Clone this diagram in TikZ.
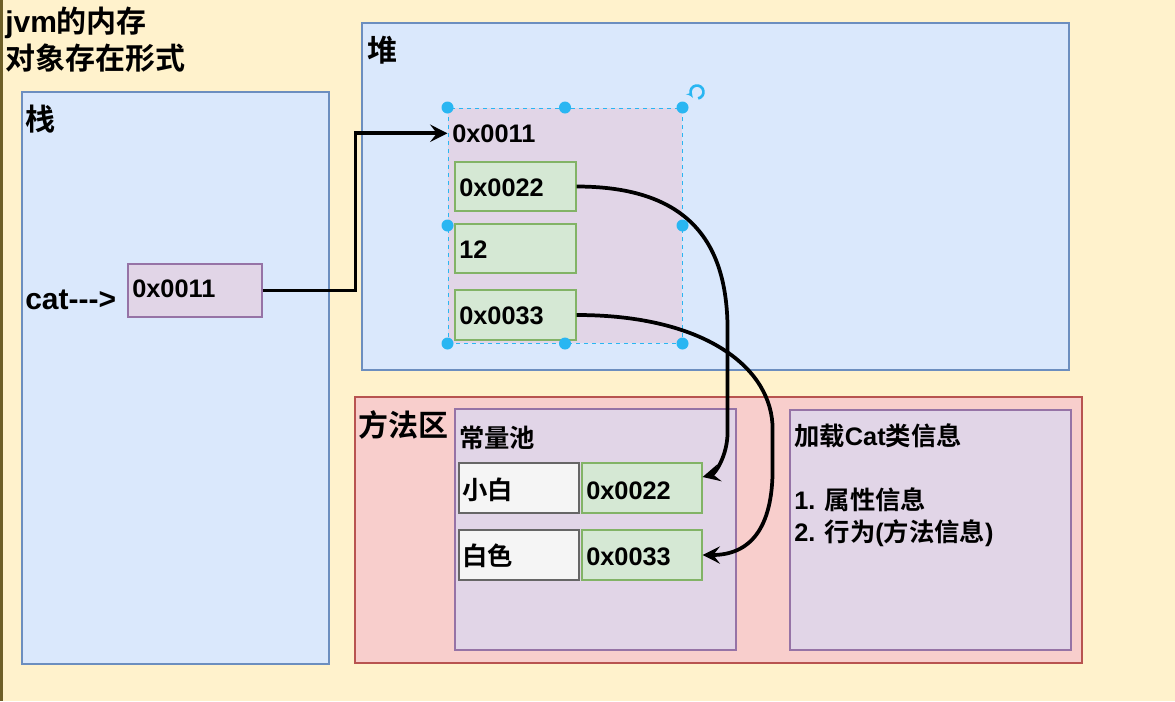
\documentclass[tikz,border=0pt]{standalone}
\usepackage{fontspec}
\setmainfont{Liberation Sans}
\newfontfamily\cjk{Noto Sans CJK SC}[BoldFont={Noto Sans CJK SC Bold}]
\usetikzlibrary{arrows.meta,fit,calc}
\definecolor{bgY}{HTML}{FFF2CC}
\definecolor{edgeL}{RGB}{110,95,40}
\definecolor{blueF}{HTML}{DAE8FC}
\definecolor{blueD}{HTML}{6C8EBF}
\definecolor{purF}{HTML}{E1D5E7}
\definecolor{purD}{HTML}{9673A6}
\definecolor{grnF}{HTML}{D5E8D4}
\definecolor{grnD}{HTML}{82B366}
\definecolor{redF}{HTML}{F8CECC}
\definecolor{redD}{HTML}{B85450}
\definecolor{gryF}{HTML}{F5F5F5}
\definecolor{gryD}{HTML}{666666}
\definecolor{selB}{RGB}{41,182,242}
\newcommand{\zhtxt}[1]{{\cjk #1}}
\begin{document}
\begin{tikzpicture}[x=0.75pt,y=-0.75pt,
  box/.style={rectangle, inner sep=0pt, line width=0.9pt},
  bluebox/.style={box, fill=blueF, draw=blueD},
  purbox/.style={box, fill=purF, draw=purD},
  grnbox/.style={box, fill=grnF, draw=grnD},
  redbox/.style={box, fill=redF, draw=redD},
  grybox/.style={box, fill=gryF, draw=gryD},
  objbox/.style={box, fill=purF, draw=selB, dashed, line width=0.75pt},
  txt/.style={inner sep=0pt, anchor=base west, font=\bfseries\fontsize{19}{23}\selectfont},
  bigtxt/.style={inner sep=0pt, anchor=base west, font=\bfseries\fontsize{22.5}{27}\selectfont},
  conn/.style={line width=2.8pt, -{Stealth[length=13pt,width=13pt,inset=5pt]}},
  handle/.style={circle, fill=selB, inner sep=0pt, minimum size=9pt}
]
\useasboundingbox (0,0) rectangle (1175,701);
\fill[bgY] (0,0) rectangle (1175,701);
\draw[edgeL, line width=2.2pt] (1.5,0) -- (1.5,701);

% regions
\node[bluebox, fit={(22,92)(329,664)}] (stack) {};
\node[bluebox, fit={(362,23)(1069,370)}] (heap) {};
\node[redbox, fit={(355,397)(1082,663)}] (method) {};
\node[purbox, fit={(455,409)(736,650)}] (pool) {};
\node[purbox, fit={(790,410)(1071,650)}] (classinfo) {};

% boxes
\node[purbox, fit={(128,264)(262,317)}] (s11) {};
\node[objbox, fit={(448,108)(682,343)}] (obj) {};
\node[grnbox, fit={(455,162)(576,211)}] (h22) {};
\node[grnbox, fit={(455,224)(576,273)}] (h12) {};
\node[grnbox, fit={(455,290)(576,340)}] (h33) {};
\node[grybox, fit={(459,463)(579,513)}] (kxb) {};
\node[grnbox, fit={(582,463)(702,513)}] (p22) {};
\node[grybox, fit={(459,530)(579,580)}] (kbs) {};
\node[grnbox, fit={(582,530)(702,580)}] (p33) {};

% texts
\node[bigtxt] (title1) at (5,32) {jvm\zhtxt{的内存}};
\node[bigtxt] (title2) at (5,69) {\zhtxt{对象存在形式}};
\node[bigtxt] (stacklbl) at (25,130) {\zhtxt{栈}};
\node[bigtxt] (heaplbl) at (367,61) {\zhtxt{堆}};
\node[bigtxt] (methodlbl) at (358,436) {\zhtxt{方法区}};
\node[bigtxt] (catlbl) at (25,309) {cat-{}-{}->};
\node[txt] (ts11) at (132,297) {0x0011};
\node[txt] (h11) at (452,142) {0x0011};
\node[txt] (th22) at (459,196) {0x0022};
\node[txt] (th12) at (459,258) {12};
\node[txt] (th33) at (459,324) {0x0033};
\node[txt] (poollbl) at (459,447) {\zhtxt{常量池}};
\node[txt] (txb) at (462,499) {\zhtxt{小白}};
\node[txt] (tp22) at (586,499) {0x0022};
\node[txt] (tbs) at (462,565) {\zhtxt{白色}};
\node[txt] (tp33) at (586,565) {0x0033};
\node[txt] (ci1) at (794,445) {\zhtxt{加载}Cat\zhtxt{类信息}};
\node[txt] (ci2) at (794,509) {1. \zhtxt{属性信息}};
\node[txt] (ci3) at (794,541) {2. \zhtxt{行为}(\zhtxt{方法信息})};

% connectors
\draw[conn] (s11.east) -- ++(93,0) |- (obj.west |- h11.west);
\draw[conn] (h22.east) .. controls +(125,0) and +(0,-75) .. ++(151,145)
  -- ++(0,100) .. controls +(0,25) and +(12,-3) .. ([yshift=8.25pt]p22.east);
\draw[conn] (h33.east) .. controls +(130,0) and +(0,-60) .. ++(196,114)
  -- ++(0,40) .. controls +(0,60) and +(47,0) .. (p33.east);

% selection handles
\foreach \a in {north west,north,north east,west,east,south west,south,south east}
  \node[handle] at (obj.\a) {};
\draw[selB, line width=2pt, -{Stealth[length=4pt,width=5pt]}] (697,92) ++(80:6.5) arc (80:-220:6.5);
\end{tikzpicture}
\end{document}
